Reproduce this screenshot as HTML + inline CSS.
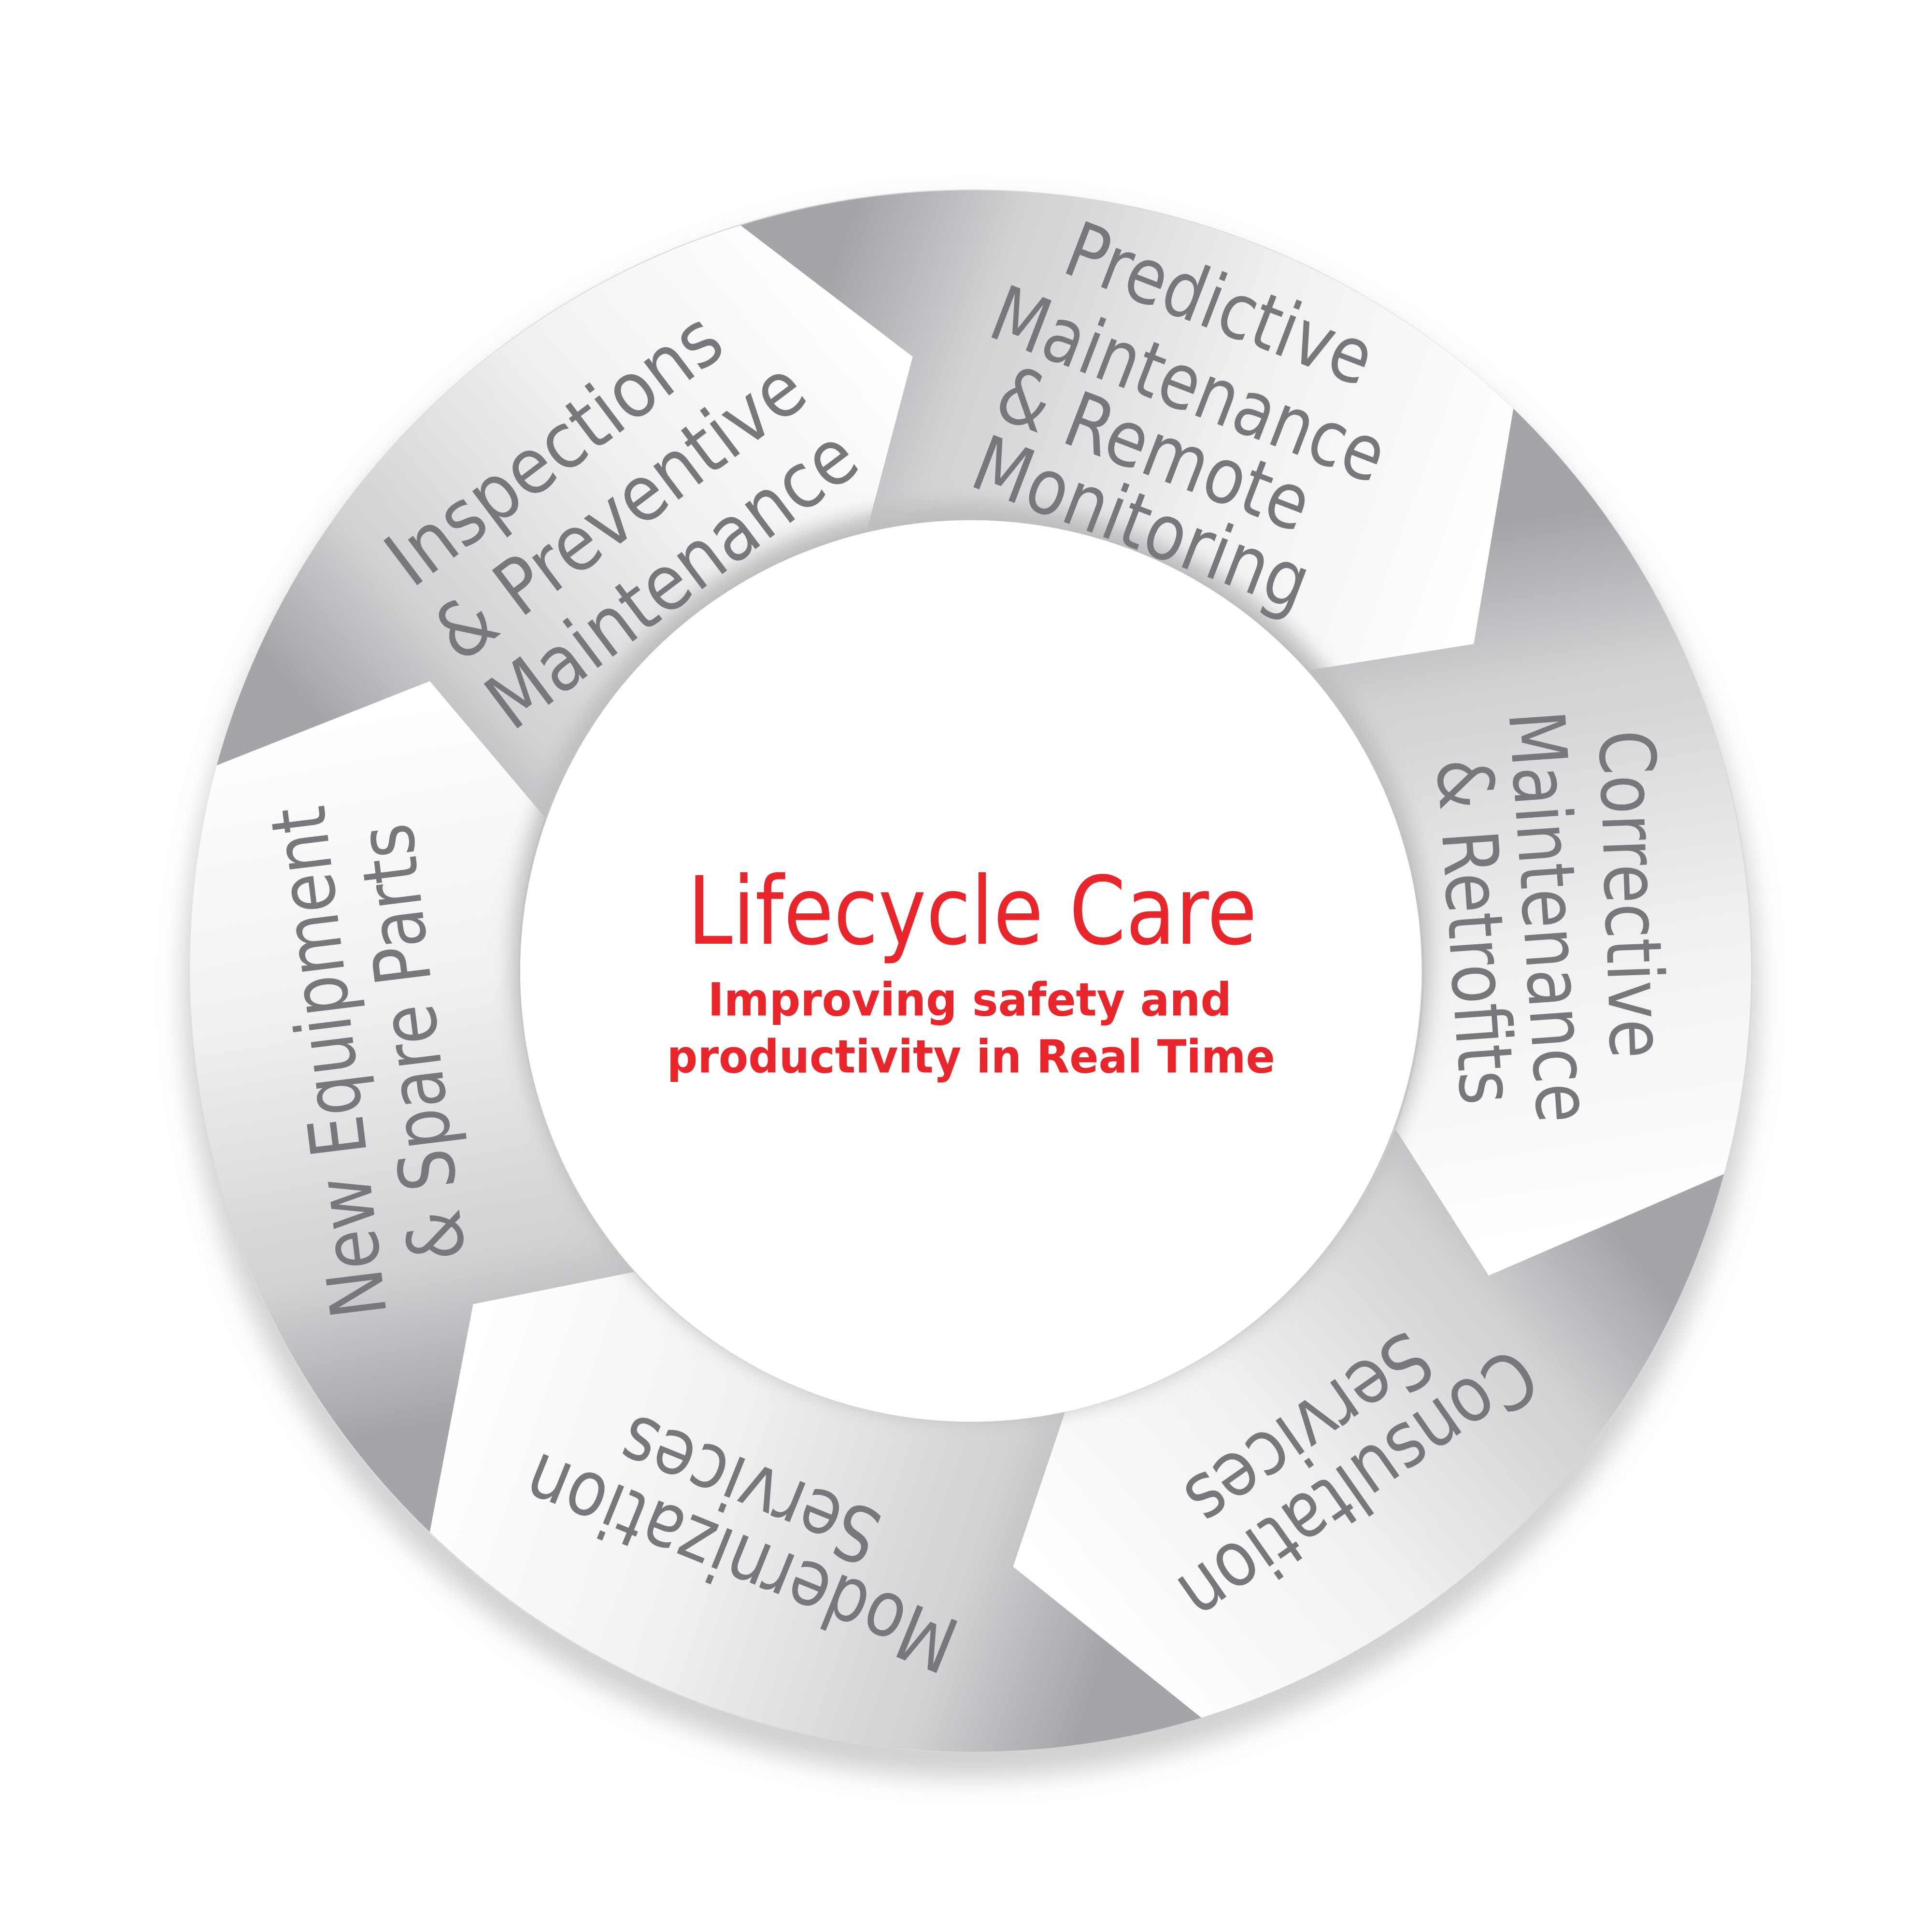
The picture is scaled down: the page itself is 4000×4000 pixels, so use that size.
<!DOCTYPE html>
<html><head><meta charset="utf-8"><style>html,body{margin:0;padding:0;background:#fff}svg{display:block}</style></head>
<body>
<svg width="4000" height="4000" viewBox="0 0 1560 1560" xmlns="http://www.w3.org/2000/svg">
<defs>
<filter id="sh" x="-20%" y="-20%" width="140%" height="140%"><feGaussianBlur stdDeviation="10"/></filter>
<filter id="ish" x="-20%" y="-20%" width="140%" height="140%"><feGaussianBlur stdDeviation="8"/></filter>
<linearGradient id="g0" gradientUnits="userSpaceOnUse" x1="262" y1="584" x2="668" y2="235"><stop offset="0" stop-color="#a4a5a8"/><stop offset="0.22" stop-color="#d0d1d3"/><stop offset="0.6" stop-color="#f0f0f1"/><stop offset="1" stop-color="#fff"/></linearGradient>
<linearGradient id="g1" gradientUnits="userSpaceOnUse" x1="668" y1="235" x2="1206" y2="425"><stop offset="0" stop-color="#a4a5a8"/><stop offset="0.22" stop-color="#d0d1d3"/><stop offset="0.6" stop-color="#f0f0f1"/><stop offset="1" stop-color="#fff"/></linearGradient>
<linearGradient id="g2" gradientUnits="userSpaceOnUse" x1="1206" y1="425" x2="1297" y2="989"><stop offset="0" stop-color="#a4a5a8"/><stop offset="0.22" stop-color="#d0d1d3"/><stop offset="0.6" stop-color="#f0f0f1"/><stop offset="1" stop-color="#fff"/></linearGradient>
<linearGradient id="g3" gradientUnits="userSpaceOnUse" x1="1297" y1="989" x2="894" y2="1326"><stop offset="0" stop-color="#a4a5a8"/><stop offset="0.22" stop-color="#d0d1d3"/><stop offset="0.6" stop-color="#f0f0f1"/><stop offset="1" stop-color="#fff"/></linearGradient>
<linearGradient id="g4" gradientUnits="userSpaceOnUse" x1="894" y1="1326" x2="364" y2="1145"><stop offset="0" stop-color="#a4a5a8"/><stop offset="0.22" stop-color="#d0d1d3"/><stop offset="0.6" stop-color="#f0f0f1"/><stop offset="1" stop-color="#fff"/></linearGradient>
<linearGradient id="g5" gradientUnits="userSpaceOnUse" x1="364" y1="1145" x2="262" y2="584"><stop offset="0" stop-color="#a4a5a8"/><stop offset="0.22" stop-color="#d0d1d3"/><stop offset="0.6" stop-color="#f0f0f1"/><stop offset="1" stop-color="#fff"/></linearGradient>
</defs>
<circle cx="784" cy="800" r="636" fill="#bdbec0" filter="url(#sh)" opacity="0.7"/>
<circle cx="784" cy="784" r="631" fill="#d8d9da"/>
<path d="M175,618 A631,631 0 0 1 598,182 L737,288 L700,428 A366,366 0 0 0 440,660 L347,550 Z" fill="url(#g0)"/>
<path d="M598,182 A631,631 0 0 1 1222,330 L1190,520 L1058,541 A366,366 0 0 0 700,428 L737,288 Z" fill="url(#g1)"/>
<path d="M1222,330 A631,631 0 0 1 1392,948 L1202,1030 L1127,912 A366,366 0 0 0 1058,541 L1190,520 Z" fill="url(#g2)"/>
<path d="M1392,948 A631,631 0 0 1 970,1387 L818,1265 L860,1140 A366,366 0 0 0 1127,912 L1202,1030 Z" fill="url(#g3)"/>
<path d="M970,1387 A631,631 0 0 1 347,1237 L382,1053 L512,1027 A366,366 0 0 0 860,1140 L818,1265 Z" fill="url(#g4)"/>
<path d="M347,1237 A631,631 0 0 1 175,618 L347,550 L440,660 A366,366 0 0 0 512,1027 L382,1053 Z" fill="url(#g5)"/>
<circle cx="784" cy="776" r="370" fill="#bcbdbf" filter="url(#ish)"/>
<circle cx="784" cy="784" r="364" fill="#fff"/>
<g font-family="'DejaVu Sans','Liberation Sans',sans-serif" fill="#77787b" font-size="62" text-anchor="middle">
<g transform="translate(447,362) rotate(-37)"><text y="22" textLength="320" lengthAdjust="spacingAndGlyphs">Inspections</text></g>
<g transform="translate(500,412) rotate(-37)"><text y="22" textLength="355" lengthAdjust="spacingAndGlyphs">&amp; Preventive</text></g>
<g transform="translate(542,467) rotate(-37)"><text y="22" textLength="355" lengthAdjust="spacingAndGlyphs">Maintenance</text></g>
<g transform="translate(985,245) rotate(21)"><text y="22" textLength="260" lengthAdjust="spacingAndGlyphs">Predictive</text></g>
<g transform="translate(960,310) rotate(21)"><text y="22" textLength="335" lengthAdjust="spacingAndGlyphs">Maintenance</text></g>
<g transform="translate(932,362) rotate(21)"><text y="22" textLength="265" lengthAdjust="spacingAndGlyphs">&amp; Remote</text></g>
<g transform="translate(922,422) rotate(21)"><text y="22" textLength="285" lengthAdjust="spacingAndGlyphs">Monitoring</text></g>
<g transform="translate(1318,722) rotate(88)"><text y="22" textLength="265" lengthAdjust="spacingAndGlyphs">Corrective</text></g>
<g transform="translate(1252,740) rotate(86)"><text y="22" textLength="333" lengthAdjust="spacingAndGlyphs">Maintenance</text></g>
<g transform="translate(1192,752) rotate(86)"><text y="22" textLength="280" lengthAdjust="spacingAndGlyphs">&amp; Retrofits</text></g>
<g transform="translate(1097,1200) rotate(145)"><text y="22" textLength="335" lengthAdjust="spacingAndGlyphs">Consultation</text></g>
<g transform="translate(1057,1155) rotate(145)"><text y="22" textLength="225" lengthAdjust="spacingAndGlyphs">Services</text></g>
<g transform="translate(598,1262) rotate(202)"><text y="22" textLength="370" lengthAdjust="spacingAndGlyphs">Modernization</text></g>
<g transform="translate(605,1203) rotate(202)"><text y="22" textLength="220" lengthAdjust="spacingAndGlyphs">Services</text></g>
<g transform="translate(265,858) rotate(-97)"><text y="22" textLength="415" lengthAdjust="spacingAndGlyphs">New Equipment</text></g>
<g transform="translate(332,842) rotate(-97)"><text y="22" textLength="355" lengthAdjust="spacingAndGlyphs">&amp; Spare Parts</text></g>
</g>
<g font-family="'DejaVu Sans','Liberation Sans',sans-serif" fill="#e8262b" text-anchor="middle">
<text x="785" y="762" font-size="76" textLength="460" lengthAdjust="spacingAndGlyphs">Lifecycle Care</text>
<text x="783" y="820" font-size="37" font-weight="bold" textLength="423" lengthAdjust="spacingAndGlyphs">Improving safety and</text>
<text x="784" y="866" font-size="37" font-weight="bold" textLength="491" lengthAdjust="spacingAndGlyphs">productivity in Real Time</text>
</g>
</svg>
</body></html>
